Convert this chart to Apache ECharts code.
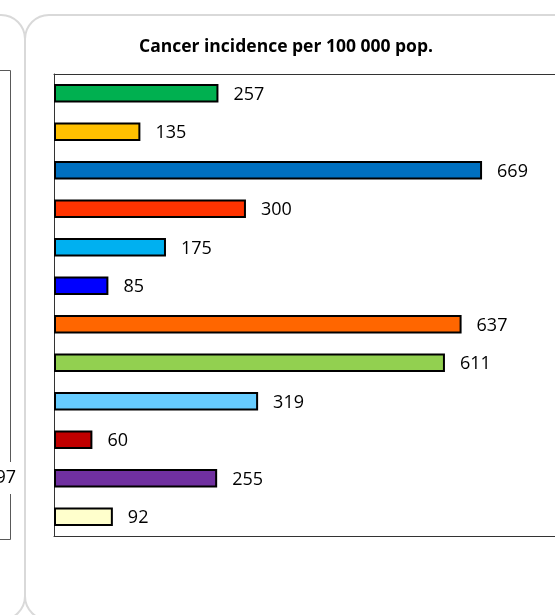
<!DOCTYPE html>
<html>
<head>
<meta charset="utf-8">
<script src="https://cdn.jsdelivr.net/npm/echarts@6/dist/echarts.min.js"></script>
<style>
  html, body { margin: 0; padding: 0; background: #fff; }
  #chart { width: 555px; height: 615px; }
</style>
</head>
<body>
<div id="chart"></div>
<script>
// Cancer incidence per 100 000 population, one bar per cancer site
const categories = ['c1', 'c2', 'c3', 'c4', 'c5', 'c6', 'c7', 'c8', 'c9', 'c10', 'c11', 'c12'];
const incidence = [257, 135, 669, 300, 175, 85, 637, 611, 319, 60, 255, 92];
const barColors = ['#00B050', '#FFC000', '#0070C0', '#FF3300', '#00B0F0', '#0000FF',
                   '#FF6600', '#92D050', '#66CCFF', '#C00000', '#7030A0', '#FFFFCC'];
const titleText = 'Cancer incidence per 100 000 pop.';
const neighbourLabel = '97';

const FONT = '"Open Sans", sans-serif';
const chart = echarts.init(document.getElementById('chart'), null, { renderer: 'canvas' });

const panelStroke = { stroke: '#d9d9d9', lineWidth: 2, fill: 'none' };
const frameStroke = { stroke: '#595959', lineWidth: 1 };
// the plot frame is open on the right: it continues past the page edge
const frameLine = { show: true, lineStyle: { color: '#333', width: 1 } };

chart.setOption({
  animation: false,
  backgroundColor: '#ffffff',
  title: {
    text: titleText,
    left: 281,
    top: 33,
    textAlign: 'center',
    textStyle: { fontFamily: FONT, fontWeight: 'bold', fontSize: 17.5, color: '#000' }
  },
  grid: { left: 54, top: 74, bottom: 79, right: 0, show: false },
  xAxis: [
    { type: 'value', min: 0, max: 783, position: 'bottom',
      axisLine: frameLine, axisTick: { show: false }, axisLabel: { show: false }, splitLine: { show: false } },
    { type: 'value', min: 0, max: 783, position: 'top',
      axisLine: frameLine, axisTick: { show: false }, axisLabel: { show: false }, splitLine: { show: false } }
  ],
  yAxis: {
    type: 'category', data: categories, inverse: true,
    axisLine: frameLine, axisTick: { show: false }, axisLabel: { show: false }
  },
  series: [{
    type: 'bar',
    xAxisIndex: 0,
    data: incidence.map((v, i) => ({ value: v, itemStyle: { color: barColors[i] } })),
    barWidth: 18.5,
    itemStyle: { borderColor: '#000', borderWidth: 2 },
    label: {
      show: true, position: 'right', distance: 15, offset: [0, 1.5],
      fontFamily: FONT, fontSize: 18, color: '#000'
    }
  }],
  graphic: [
    // panel outlines (neighbouring panel on the left, this panel on the right)
    { type: 'rect', silent: true, z: -10, shape: { x: -600, y: 15, width: 625, height: 605, r: 24 }, style: panelStroke },
    { type: 'rect', silent: true, z: -10, shape: { x: 25, y: 15, width: 620, height: 605, r: 24 }, style: panelStroke },
    // edge of the neighbouring chart's plot frame
    { type: 'polyline', silent: true, shape: { points: [[0, 70.5], [10.5, 70.5], [10.5, 462]] }, style: Object.assign({ fill: 'none' }, frameStroke) },
    { type: 'polyline', silent: true, shape: { points: [[10.5, 494], [10.5, 539.5], [0, 539.5]] }, style: Object.assign({ fill: 'none' }, frameStroke) },
    { type: 'text', silent: true, style: { text: neighbourLabel, x: 16, y: 478, align: 'right', verticalAlign: 'middle', font: '18px ' + FONT, fill: '#000' } }
  ]
});
</script>
</body>
</html>
